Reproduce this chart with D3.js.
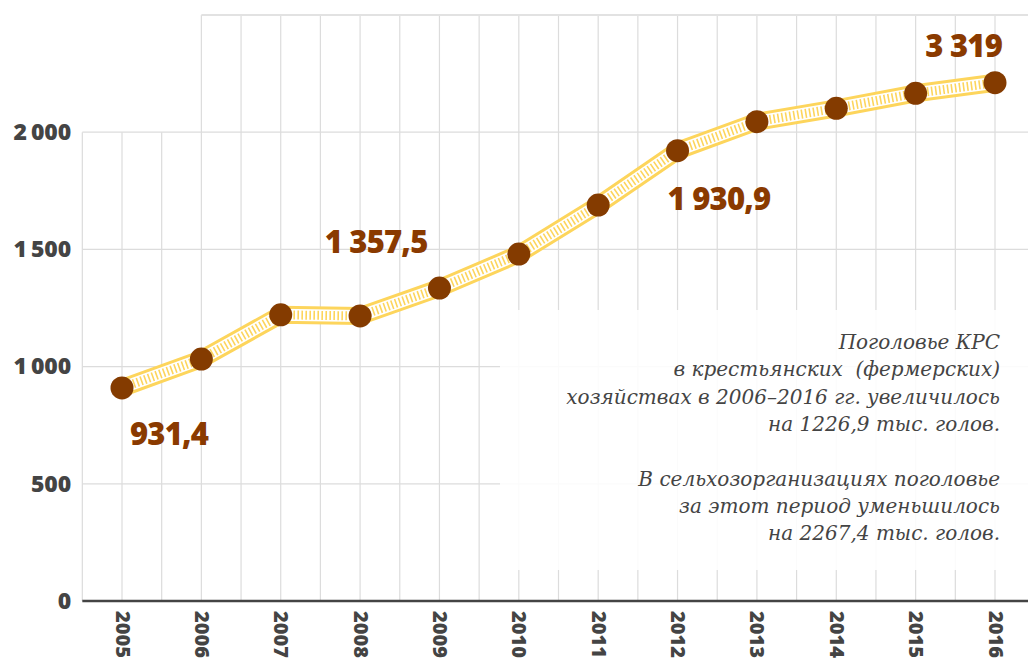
<!DOCTYPE html>
<html>
<head>
<meta charset="utf-8">
<script src="https://cdn.jsdelivr.net/npm/d3@7.9.0/dist/d3.min.js"></script>
<style>
  body { margin: 0; background: #fff; }
  svg { display: block; }
  .note { white-space: pre; }
</style>
</head>
<body>
<svg id="chart" width="1028" height="662"></svg>
<script>
// Data
const years = [2005, 2006, 2007, 2008, 2009, 2010, 2011, 2012, 2013, 2014, 2015, 2016];
const values = [909, 1032, 1221, 1216, 1335, 1480, 1689, 1921, 2045, 2102, 2166, 2211];
const yTicks = [0, 500, 1000, 1500, 2000];
const labelYears = [2005, 2008, 2012, 2016];
const labelTexts = ['931,4', '1 357,5', '1 930,9', '3 319'];
const noteLines = [
  'Поголовье КРС',
  'в крестьянских  (фермерских)',
  'хозяйствах в 2006–2016 гг. увеличилось',
  'на 1226,9 тыс. голов.',
  '',
  'В сельхозорганизациях поголовье',
  'за этот период уменьшилось',
  'на 2267,4 тыс. голов.'
];

const W = 1028, H = 662;
const brown = '#843b00';
const yellow = '#fdd55c';
const grey = '#444';

const svg = d3.select('#chart');

// Scales
const x = d3.scaleLinear().domain([2005, 2016]).range([122, 995]);
const y = d3.scaleLinear().domain([0, 2500]).range([601, 15]);

// Grid lines (every half year)
const gridX = d3.range(2004.5, 2016.01, 0.5);
svg.append('g')
  .selectAll('line')
  .data(gridX)
  .join('line')
  .attr('x1', d => x(d)).attr('x2', d => x(d))
  .attr('y1', d => d < 2006 ? y(2000) : y(2500))
  .attr('y2', y(0))
  .attr('stroke', '#dcdcdc')
  .attr('stroke-width', 1.2);

svg.append('g')
  .selectAll('line')
  .data(yTicks.slice(1).concat([2500]))
  .join('line')
  .attr('x1', d => d === 2500 ? x(2006) : x(2004.5))
  .attr('x2', W)
  .attr('y1', d => y(d)).attr('y2', d => y(d))
  .attr('stroke', d => d === 2500 ? '#e2e2e2' : '#dcdcdc')
  .attr('stroke-width', d => d === 2500 ? 2 : 1.2);

// Y axis labels
const fmt = d3.formatLocale({ decimal: ',', thousands: '\u2009', grouping: [3], currency: ['', ''] }).format(',d');
const yAxis = svg.append('g')
  .attr('transform', `translate(${x(2004.5)},0)`)
  .call(d3.axisLeft(y).tickValues(yTicks).tickSize(0).tickPadding(11).tickFormat(fmt));
yAxis.select('.domain').remove();
yAxis.selectAll('text')
  .attr('fill', grey)
  .style('font-family', '"Open Sans", sans-serif')
  .style('font-weight', 800)
  .style('font-size', '23px');

// X axis
const xAxis = svg.append('g')
  .attr('transform', `translate(0,${y(0)})`)
  .call(d3.axisBottom(x).tickValues(years).tickSize(0).tickFormat(d3.format('d')));
xAxis.select('.domain')
  .attr('d', `M${x(2004.5)},0H${W}`)
  .attr('stroke', grey)
  .attr('stroke-width', 2.5);
xAxis.selectAll('text')
  .attr('transform', 'rotate(90)')
  .attr('text-anchor', 'start')
  .attr('x', 10)
  .attr('y', 0)
  .attr('dy', '0.35em')
  .attr('fill', grey)
  .style('font-family', '"Open Sans", sans-serif')
  .style('font-weight', 800)
  .style('font-size', '20px');

// Note box
svg.append('rect')
  .attr('x', 500).attr('y', 310)
  .attr('width', W - 500).attr('height', 260)
  .attr('fill', '#fff')
  .attr('opacity', 0.88);

svg.append('g')
  .selectAll('text')
  .data(noteLines)
  .join('text')
  .attr('class', 'note')
  .attr('x', 1000)
  .attr('y', (d, i) => 349 + i * 27.3)
  .attr('text-anchor', 'end')
  .attr('fill', '#444')
  .style('font-family', '"DejaVu Serif", serif')
  .style('font-style', 'italic')
  .style('font-size', '20px')
  .text(d => d);

// Line
const pts = years.map((yr, i) => ({ year: yr, value: values[i] }));
const line = d3.line().x(d => x(d.year)).y(d => y(d.value));

svg.append('path').datum(pts)
  .attr('d', line).attr('fill', 'none')
  .attr('stroke', yellow).attr('stroke-width', 18).attr('stroke-linejoin', 'round');
svg.append('path').datum(pts)
  .attr('d', line).attr('fill', 'none')
  .attr('stroke', '#fff').attr('stroke-width', 12).attr('stroke-linejoin', 'round');
svg.append('path').datum(pts)
  .attr('d', line).attr('fill', 'none')
  .attr('stroke', yellow).attr('stroke-width', 9)
  .attr('stroke-dasharray', '1.6,2.4');

// Dots
svg.append('g')
  .selectAll('circle')
  .data(pts)
  .join('circle')
  .attr('cx', d => x(d.year))
  .attr('cy', d => y(d.value))
  .attr('r', 11.5)
  .attr('fill', brown);

// Value labels
const labelPlace = [
  { dx: 8, dy: 57, anchor: 'start' },
  { dx: 16, dy: -63, anchor: 'middle' },
  { dx: -10, dy: 59, anchor: 'start' },
  { dx: 7, dy: -26, anchor: 'end' }
];
svg.append('g')
  .selectAll('text')
  .data(labelYears)
  .join('text')
  .attr('x', (d, i) => x(d) + labelPlace[i].dx)
  .attr('y', (d, i) => y(values[years.indexOf(d)]) + labelPlace[i].dy)
  .attr('text-anchor', (d, i) => labelPlace[i].anchor)
  .attr('fill', '#8a3a00')
  .style('font-family', '"Open Sans", sans-serif')
  .style('font-weight', 800)
  .style('font-size', '31px')
  .style('letter-spacing', '-0.8px')
  .text((d, i) => labelTexts[i]);
</script>
</body>
</html>
